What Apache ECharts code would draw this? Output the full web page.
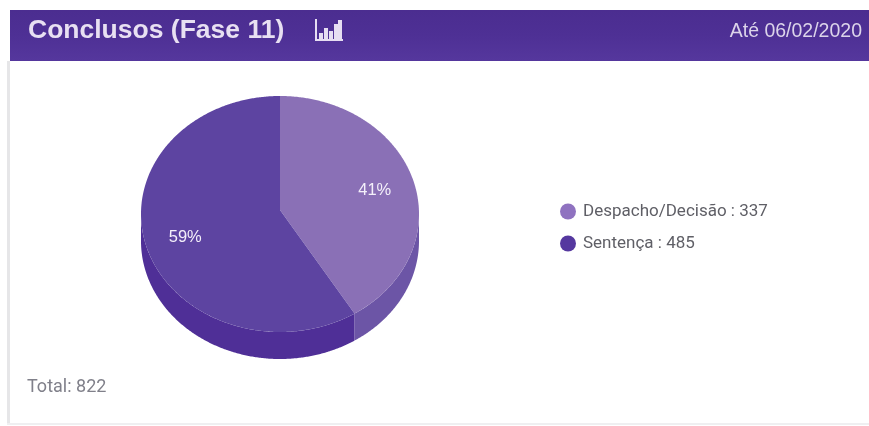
<!DOCTYPE html>
<html>
<head>
<meta charset="utf-8">
<style>html,body{margin:0;padding:0;background:#fff}#chart{width:869px;height:426px}</style>
<script src="https://cdn.jsdelivr.net/npm/echarts@6/dist/echarts.min.js"></script>
</head>
<body>
<div id="chart"></div>
<script>
// Closed cases by type of last movement
const categories = ['Despacho/Decisão', 'Sentença'];
const values = [337, 485];
const percentLabels = ['41%', '59%'];
const topColors = ['#8a70b6', '#5d44a1'];
const wallColors = ['#6c55a6', '#4f2f97'];
const legendColors = ['#8f72c0', '#55389f'];
const titleText = 'Conclusos (Fase 11)';
const dateText = 'Até 06/02/2020';
const totalText = 'Total: 822';

const total = values.reduce((a, b) => a + b, 0);

// Tilted pie geometry
const cx = 280, cy = 214, rx = 139, ry = 118, apexY = 210, depth = 27, labelR = 0.71;
const rim = (deg, dy) => {
  const r = deg * Math.PI / 180;
  return [cx + rx * Math.sin(r), cy + dy - ry * Math.cos(r)];
};
// Points along the rim from one angle to another, half a degree apart
const rimPoints = (from, to, dy) => {
  const n = Math.max(1, Math.ceil(Math.abs(to - from) * 2));
  const pts = [];
  for (let i = 0; i <= n; i++) pts.push(rim(from + (to - from) * i / n, dy));
  return pts;
};

function sliceRenderer(index) {
  return function (params, api) {
    const before = values.slice(0, index).reduce((a, b) => a + b, 0);
    const a0 = before / total * 360;
    const a1 = (before + api.value(0)) / total * 360;
    const children = [];
    // Side wall: only the front half of the rim is visible
    const w0 = Math.max(a0, 90), w1 = Math.min(a1, 270);
    if (w1 > w0) {
      children.push({
        type: 'polygon',
        shape: { points: rimPoints(w0, w1, 0).concat(rimPoints(w1, w0, depth)) },
        style: { fill: wallColors[index] }
      });
    }
    // Top face
    children.push({
      type: 'polygon',
      shape: { points: [[cx, apexY]].concat(rimPoints(a0, a1, 0)) },
      style: { fill: topColors[index] }
    });
    const mid = (a0 + a1) / 2 * Math.PI / 180;
    children.push({
      type: 'text',
      style: {
        x: cx + rx * labelR * Math.sin(mid),
        y: cy - ry * labelR * Math.cos(mid),
        text: percentLabels[index],
        fill: '#f4f0fa',
        font: '16.5px "Liberation Sans", Arial, sans-serif',
        textAlign: 'center',
        textVerticalAlign: 'middle'
      }
    });
    return { type: 'group', children };
  };
}

// Bar chart glyph in the header
const iconBars = [[319, 33, 4, 6], [324, 28, 4, 11], [329, 31, 4, 8], [334, 24, 4, 15], [338, 20, 4, 19]];
const iconColor = '#e6def2';
const headerIcon = [
  { type: 'rect', silent: true, shape: { x: 315, y: 19, width: 2, height: 21 }, style: { fill: iconColor } },
  { type: 'rect', silent: true, shape: { x: 315, y: 39, width: 28, height: 2 }, style: { fill: iconColor } }
].concat(iconBars.map(b => ({
  type: 'rect', silent: true, shape: { x: b[0], y: b[1], width: b[2], height: b[3] }, style: { fill: iconColor }
})));

const chart = echarts.init(document.getElementById('chart'), null, { renderer: 'canvas' });
chart.setOption({
  animation: false,
  backgroundColor: '#ffffff',
  legend: {
    orient: 'vertical',
    left: 555,
    top: 198,
    icon: 'circle',
    itemWidth: 16,
    itemHeight: 16,
    itemGap: 15,
    selectedMode: false,
    data: categories.map((name, i) => ({ name, itemStyle: { color: legendColors[i] } })),
    formatter: name => `${name} : ${values[categories.indexOf(name)]}`,
    textStyle: { color: '#5f5f66', fontSize: 17, fontFamily: 'Roboto, sans-serif', padding: [0, 0, 0, 2] }
  },
  series: categories.map((name, i) => ({
    type: 'custom',
    name,
    coordinateSystem: 'none',
    silent: true,
    itemStyle: { color: topColors[i] },
    data: [[values[i]]],
    renderItem: sliceRenderer(i)
  })),
  graphic: [
    { type: 'rect', silent: true, z: -2, shape: { x: 7, y: 61, width: 3, height: 363 }, style: { fill: '#e6e6e8' } },
    { type: 'rect', silent: true, z: -2, shape: { x: 7, y: 423, width: 862, height: 2 }, style: { fill: '#efeff1' } },
    {
      type: 'rect', silent: true, z: -1,
      shape: { x: 10, y: 10, width: 859, height: 51 },
      style: {
        fill: {
          type: 'linear', x: 0, y: 0, x2: 0, y2: 1,
          colorStops: [
            { offset: 0, color: '#4b2d90' },
            { offset: 0.5, color: '#4e3095' },
            { offset: 1, color: '#55379d' }
          ]
        }
      }
    },
    {
      type: 'text', silent: true, left: 28, top: 17,
      style: { text: titleText, fill: '#e8e0f2', font: 'bold 26.5px "Liberation Sans", Arial, sans-serif' }
    },
    ...headerIcon,
    {
      type: 'text', silent: true, right: 7, top: 22,
      style: { text: dateText, fill: '#dcd4ea', font: '19.5px "Liberation Sans", Arial, sans-serif' }
    },
    {
      type: 'text', silent: true, left: 27, top: 378,
      style: { text: totalText, fill: '#80808a', font: '18px Roboto, sans-serif' }
    }
  ]
});
</script>
</body>
</html>
